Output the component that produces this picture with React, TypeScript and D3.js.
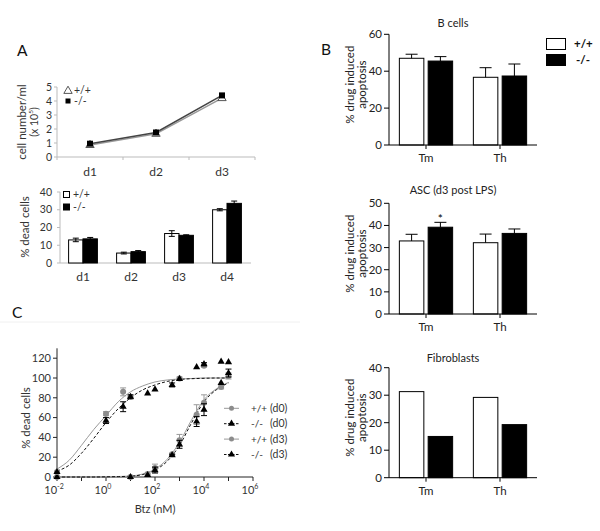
import React from 'react';
import * as d3 from 'd3';

const FONT = "Lato, 'DejaVu Sans', sans-serif";

// ---------- Panel A (top): cell number ----------
const growthDays = ['d1', 'd2', 'd3'];
const growthWT = [0.85, 1.65, 4.2];
const growthKO = [0.95, 1.75, 4.4];
const growthTicks = [0, 1, 2, 3, 4, 5];

// ---------- Panel A (bottom): % dead cells ----------
const deadDays = ['d1', 'd2', 'd3', 'd4'];
const deadWT = [13, 5.6, 16.6, 30];
const deadWTErr = [1, 0.5, 1.6, 0.6];
const deadKO = [13.6, 6.4, 15.6, 33.6];
const deadKOErr = [0.8, 0.6, 0.3, 1.3];
const deadTicks = [0, 10, 20, 30, 40];

// ---------- Panel B ----------
const groups = ['Tm', 'Th'];
const bcellWT = [47, 36.7];
const bcellWTErr = [2.2, 5.2];
const bcellKO = [45.5, 37.4];
const bcellKOErr = [2.4, 6.5];
const bcellTicks = [0, 20, 40, 60];

const ascWT = [33, 32.2];
const ascWTErr = [3, 3.9];
const ascKO = [39.2, 36.4];
const ascKOErr = [2.2, 2];
const ascTicks = [0, 10, 20, 30, 40, 50];

const fibroWT = [31.3, 29.2];
const fibroKO = [15, 19.3];
const fibroTicks = [0, 10, 20, 30, 40];

// ---------- Panel C ----------
const wtD0Doses = [0.01, 1, 5, 10, 1000, 10000];
const wtD0 = [5, 64, 86, 81, 99.5, 112.5];
const wtD0Err = [0, 2, 4, 0, 1.5, 1.5];
const koD0Doses = [0.01, 1, 5, 10, 50, 100, 500, 1000, 5000, 10000, 50000, 100000];
const koD0 = [5, 57, 71, 81, 84.5, 88.5, 93, 99, 111, 114, 116.5, 116];
const koD0Err = [0, 3, 5, 2, 0, 0, 2, 0, 0, 1.5, 0, 0];
const d3Doses = [0.01, 10, 50, 100, 500, 1000, 5000, 10000, 50000, 100000];
const wtD3 = [0, 0, 3, 9, 23, 37, 63, 75, 91, 102];
const wtD3Err = [0, 0, 1, 4, 1, 6, 10, 8, 2, 3];
const koD3 = [0, 0, 2, 7, 22, 33, 56, 68, 95, 105];
const koD3Err = [0, 0, 0, 3, 1, 4, 5, 6, 0, 4];

// fitted curves (log10 dose -> %)
const fitLogs = [-2, -1.5, -1, -0.5, 0, 0.5, 1, 1.5, 2, 2.5, 3, 3.5, 4, 4.5, 5];
const wtD0Fit = [8, 17, 32, 48, 62, 76, 86, 92, 96, 98, 99, 99.5, 100, 100, 100];
const koD0Fit = [6, 12, 24, 39, 55, 69, 80, 88, 93, 96.5, 98.5, 99.3, 99.7, 100, 100];
const wtD3Fit = [0, 0, 0, 0, 0.2, 0.5, 1, 3, 8, 18, 35, 58, 78, 89, 95.5];
const koD3Fit = [0, 0, 0, 0, 0.2, 0.4, 0.8, 2.5, 7, 16, 32, 55, 76, 88, 95];
const cYTicks = [0, 20, 40, 60, 80, 100, 120];
const cXMajor = [-2, 0, 2, 4, 6];
const cXMinor = [-2, -1, 0, 1, 2, 3, 4, 5, 6];

const legendC = [
  { a: '+/+', b: '(d0)', ko: false },
  { a: '-/-', b: '(d0)', ko: true },
  { a: '+/+', b: '(d3)', ko: false },
  { a: '-/-', b: '(d3)', ko: true },
];

function ErrI({ x, y0, y1, w = 3, color = '#000' }: any) {
  return (
    <g stroke={color} strokeWidth={1}>
      <line x1={x} x2={x} y1={y0} y2={y1} />
      <line x1={x - w} x2={x + w} y1={y0} y2={y0} />
      <line x1={x - w} x2={x + w} y1={y1} y2={y1} />
    </g>
  );
}

function BarPanelB({ title, titleY, wt, ko, wtErr, koErr, ticks, y0, y1, labelY, star }: any) {
  const x = d3.scaleBand().domain(groups).range([389, 537]).paddingInner(0.28).paddingOuter(0.14);
  const sub = d3.scaleBand().domain(['wt', 'ko']).range([0, x.bandwidth()]).paddingInner(0.15);
  const max = ticks[ticks.length - 1];
  const y = d3.scaleLinear().domain([0, max]).range([y0, y1]);
  return (
    <g fontFamily={FONT}>
      <text x={453} y={titleY} fontSize={11} textAnchor="middle" fill="#222">{title}</text>
      {groups.map((g, i) => {
        const bx = x(g)!;
        const items = [
          { k: 'wt', v: wt[i], e: wtErr ? wtErr[i] : 0, fill: '#fff' },
          { k: 'ko', v: ko[i], e: koErr ? koErr[i] : 0, fill: '#000' },
        ];
        return (
          <g key={g}>
            {items.map((it) => {
              const xx = bx + sub(it.k)!;
              const cx = xx + sub.bandwidth() / 2;
              return (
                <g key={it.k}>
                  <rect x={xx} y={y(it.v)} width={sub.bandwidth()} height={y0 - y(it.v)}
                    fill={it.fill} stroke="#000" strokeWidth={1} />
                  {it.e > 0 && (
                    <g stroke="#000" strokeWidth={1}>
                      <line x1={cx} x2={cx} y1={y(it.v)} y2={y(it.v + it.e)} />
                      <line x1={cx - 6} x2={cx + 6} y1={y(it.v + it.e)} y2={y(it.v + it.e)} />
                    </g>
                  )}
                  {star && it.k === 'ko' && i === 0 && (
                    <text x={cx} y={y(it.v + it.e) + 1} fontSize={12} textAnchor="middle" fill="#000">*</text>
                  )}
                </g>
              );
            })}
          </g>
        );
      })}
      <line x1={389} x2={389} y1={y0} y2={y(max)} stroke="#000" />
      <line x1={389} x2={537} y1={y0} y2={y0} stroke="#000" />
      {ticks.map((t: number) => (
        <g key={t}>
          <line x1={384} x2={389} y1={y(t)} y2={y(t)} stroke="#000" />
          <text x={382} y={y(t)} dy="0.35em" fontSize={11.5} textAnchor="end" fill="#222">{t}</text>
        </g>
      ))}
      {groups.map((g) => {
        const cx = x(g)! + x.bandwidth() / 2;
        return (
          <g key={g}>
            <line x1={cx} x2={cx} y1={y0} y2={y0 + 4} stroke="#000" />
            <text x={cx} y={labelY} fontSize={11.5} textAnchor="middle" fill="#222">{g}</text>
          </g>
        );
      })}
      <g transform={`translate(349,${(y0 + y(max)) / 2 - 5}) rotate(-90)`}>
        <text x={0} y={0} fontSize={11.5} textAnchor="middle" dominantBaseline="central" fill="#222">% drug induced</text>
      </g>
      <g transform={`translate(361.5,${(y0 + y(max)) / 2 - 5}) rotate(-90)`}>
        <text x={0} y={0} fontSize={11.5} textAnchor="middle" dominantBaseline="central" fill="#222">apoptosis</text>
      </g>
    </g>
  );
}

export default function App() {
  // ---- Panel A top ----
  const ax = d3.scaleBand().domain(growthDays).range([57, 255]);
  const ay = d3.scaleLinear().domain([0, 5]).range([157, 87]);
  const acx = (d: string) => ax(d)! + ax.bandwidth() / 2;
  const lineA = d3.line<number>().x((_, i) => acx(growthDays[i])).y((v) => ay(v));
  const tri = d3.symbol(d3.symbolTriangle, 30)();
  const triC = d3.symbol(d3.symbolTriangle, 22)();

  // ---- Panel A bottom ----
  const bx = d3.scaleBand().domain(deadDays).range([59, 251]).paddingInner(0.4).paddingOuter(0.2);
  const bsub = d3.scaleBand().domain(['wt', 'ko']).range([0, bx.bandwidth()]);
  const by = d3.scaleLinear().domain([0, 40]).range([263, 192]);

  // ---- Panel C ----
  const cx = d3.scaleLog().domain([1e-2, 1e6]).range([57, 253]);
  const cy = d3.scaleLinear().domain([0, 130]).range([477, 348.3]);
  const fitLine = d3.line<number>().x((_, i) => cx(Math.pow(10, fitLogs[i]))).y((v) => cy(v)).curve(d3.curveMonotoneX);

  const renderSeries = (doses: number[], vals: number[], errs: number[], ko: boolean, color: string) => (
    <g>
      {doses.map((d, i) => {
        const X = cx(d);
        const Y = cy(vals[i]);
        return (
          <g key={i}>
            {errs[i] > 0 && <ErrI x={X} y0={cy(vals[i] - errs[i])} y1={cy(vals[i] + errs[i])} w={3} color={color} />}
            {ko ? (
              <path d={triC!} transform={`translate(${X},${Y})`} fill="#000" />
            ) : (
              <circle cx={X} cy={Y} r={3} fill="#8c8c8c" />
            )}
          </g>
        );
      })}
    </g>
  );

  return (
    <svg width={600} height={531} style={{ position: 'absolute', left: 0, top: 0, background: '#fff' }} fontFamily={FONT}>
      <rect x={0} y={0} width={600} height={531} fill="#fff" />

      {/* ================= Panel A top ================= */}
      <text x={17} y={56} fontSize={15.5} fill="#111">A</text>
      <line x1={57} x2={57} y1={157} y2={ay(5)} stroke="#bbb" />
      <line x1={57} x2={255} y1={157} y2={157} stroke="#bbb" />
      {growthTicks.map((t) => (
        <g key={t}>
          <line x1={54} x2={57} y1={ay(t)} y2={ay(t)} stroke="#bbb" />
          <text x={52} y={ay(t)} dy="0.35em" fontSize={10.5} textAnchor="end" fill="#333">{t}</text>
        </g>
      ))}
      {[...growthDays.map((d) => ax(d)!), 255].map((xx, i) => (
        <line key={i} x1={xx} x2={xx} y1={157} y2={160} stroke="#bbb" />
      ))}
      {growthDays.map((d) => (
        <text key={d} x={acx(d)} y={176} fontSize={12} textAnchor="middle" fill="#333">{d}</text>
      ))}
      <g transform="translate(21.5,122) rotate(-90)">
        <text x={0} y={0} fontSize={11.5} textAnchor="middle" dominantBaseline="central" fill="#333">cell number/ml</text>
      </g>
      <g transform="translate(33.5,122) rotate(-90)">
        <text x={0} y={0} fontSize={10.5} textAnchor="middle" dominantBaseline="central" fill="#333">
          (x 10<tspan fontSize={6.5} dy={-4}>5</tspan><tspan dy={4}>)</tspan>
        </text>
      </g>
      <path d={lineA(growthWT)!} fill="none" stroke="#999" strokeWidth={1.5} />
      <path d={lineA(growthKO)!} fill="none" stroke="#444" strokeWidth={1.5} />
      {growthWT.map((v, i) => (
        <path key={i} d={tri!} transform={`translate(${acx(growthDays[i])},${ay(v)})`} fill="#fff" stroke="#444" strokeWidth={0.9} />
      ))}
      {growthKO.map((v, i) => (
        <rect key={i} x={acx(growthDays[i]) - 3} y={ay(v) - 3} width={6} height={6} fill="#000" />
      ))}
      <path d={tri!} transform="translate(68,91)" fill="#fff" stroke="#444" strokeWidth={0.9} />
      <text x={74} y={94} fontSize={10.5} fill="#333">+/+</text>
      <rect x={65.5} y={98.5} width={5} height={5} fill="#000" />
      <text x={74} y={104.5} fontSize={10.5} fill="#333">-/-</text>

      {/* ================= Panel A bottom ================= */}
      <line x1={60} x2={60} y1={263} y2={by(40)} stroke="#bbb" />
      <line x1={60} x2={251} y1={263} y2={263} stroke="#bbb" />
      {deadTicks.map((t) => (
        <g key={t}>
          <line x1={57} x2={60} y1={by(t)} y2={by(t)} stroke="#bbb" />
          <text x={52} y={by(t)} dy="0.35em" fontSize={10.5} textAnchor="end" fill="#333">{t}</text>
        </g>
      ))}
      {deadDays.map((d, i) => {
        const x0 = bx(d)!;
        const items = [
          { k: 'wt', v: deadWT[i], e: deadWTErr[i], fill: '#fff' },
          { k: 'ko', v: deadKO[i], e: deadKOErr[i], fill: '#000' },
        ];
        return (
          <g key={d}>
            {items.map((it) => {
              const xx = x0 + bsub(it.k)!;
              const c = xx + bsub.bandwidth() / 2;
              return (
                <g key={it.k}>
                  <rect x={xx} y={by(it.v)} width={bsub.bandwidth()} height={263 - by(it.v)} fill={it.fill} stroke="#000" strokeWidth={1} />
                  <ErrI x={c} y0={by(it.v - it.e)} y1={by(it.v + it.e)} w={3} />
                </g>
              );
            })}
            <text x={x0 + bx.bandwidth() / 2} y={281} fontSize={12} textAnchor="middle" fill="#333">{d}</text>
          </g>
        );
      })}
      <g transform="translate(24,227) rotate(-90)">
        <text x={0} y={0} fontSize={11.5} textAnchor="middle" dominantBaseline="central" fill="#333">% dead cells</text>
      </g>
      <rect x={63.5} y={191.5} width={6} height={6} fill="#fff" stroke="#000" />
      <text x={73} y={198} fontSize={10.5} fill="#333">+/+</text>
      <rect x={63.5} y={204} width={6} height={6} fill="#000" stroke="#000" />
      <text x={73} y={210.5} fontSize={10.5} fill="#333">-/-</text>

      {/* ================= Panel B ================= */}
      <text x={321} y={55} fontSize={15.5} fill="#111">B</text>
      <BarPanelB title="B cells" titleY={27} wt={bcellWT} ko={bcellKO} wtErr={bcellWTErr} koErr={bcellKOErr}
        ticks={bcellTicks} y0={145} y1={34.3} labelY={162} />
      <BarPanelB title="ASC (d3 post LPS)" titleY={194} wt={ascWT} ko={ascKO} wtErr={ascWTErr} koErr={ascKOErr}
        ticks={ascTicks} y0={314} y1={203.3} labelY={331} star />
      <BarPanelB title="Fibroblasts" titleY={362} wt={fibroWT} ko={fibroKO} wtErr={null} koErr={null}
        ticks={fibroTicks} y0={477.7} y1={367.7} labelY={495} />
      <rect x={546.5} y={38.5} width={19} height={11} fill="#fff" stroke="#000" />
      <rect x={546.5} y={54.5} width={19} height={11} fill="#000" stroke="#000" />
      <text x={574} y={48} fontSize={11.5} fontWeight="bold" fill="#111">+/+</text>
      <text x={576} y={64} fontSize={11.5} fontWeight="bold" fill="#111">-/-</text>

      {/* ================= Panel C ================= */}
      <line x1={0} x2={300} y1={322} y2={322} stroke="#f0f0f0" />
      <text x={12} y={318} fontSize={15.5} fill="#111">C</text>
      <line x1={57} x2={57} y1={477} y2={348.3} stroke="#222" />
      <line x1={57} x2={253} y1={477} y2={477} stroke="#222" />
      {cYTicks.map((t) => (
        <g key={t}>
          <line x1={53} x2={57} y1={cy(t)} y2={cy(t)} stroke="#222" />
          <text x={51} y={cy(t)} dy="0.35em" fontSize={11} textAnchor="end" fill="#333">{t}</text>
        </g>
      ))}
      {cXMinor.map((l) => (
        <line key={l} x1={cx(Math.pow(10, l))} x2={cx(Math.pow(10, l))} y1={477} y2={481} stroke="#222" />
      ))}
      {cXMajor.map((l) => (
        <text key={l} x={cx(Math.pow(10, l)) - 3} y={494} fontSize={11} textAnchor="middle" fill="#333">
          10<tspan fontSize={7} dy={-5}>{l}</tspan>
        </text>
      ))}
      <text x={155} y={513} fontSize={11} textAnchor="middle" fill="#333">Btz (nM)</text>
      <g transform="translate(25,418) rotate(-90)">
        <text x={0} y={0} fontSize={11.5} textAnchor="middle" dominantBaseline="central" fill="#333">% dead cells</text>
      </g>
      <path d={fitLine(wtD0Fit)!} fill="none" stroke="#999" strokeWidth={1} />
      <path d={fitLine(koD0Fit)!} fill="none" stroke="#111" strokeWidth={1} strokeDasharray="3,2" />
      <path d={fitLine(wtD3Fit)!} fill="none" stroke="#999" strokeWidth={1} />
      <path d={fitLine(koD3Fit)!} fill="none" stroke="#111" strokeWidth={1} strokeDasharray="3,2" />
      {renderSeries(d3Doses, wtD3, wtD3Err, false, '#999')}
      {renderSeries(d3Doses, koD3, koD3Err, true, '#000')}
      {renderSeries(wtD0Doses, wtD0, wtD0Err, false, '#999')}
      {renderSeries(koD0Doses, koD0, koD0Err, true, '#000')}
      {legendC.map((l, i) => {
        const yy = 408.3 + i * 15.4;
        return (
          <g key={i}>
            <line x1={224} x2={239} y1={yy} y2={yy} stroke={l.ko ? '#111' : '#999'} strokeWidth={1} strokeDasharray={l.ko ? '2.5,1.5' : undefined} />
            {l.ko ? (
              <path d={triC!} transform={`translate(231.5,${yy})`} fill="#000" />
            ) : (
              <circle cx={231.5} cy={yy} r={2.5} fill="#8c8c8c" />
            )}
            <text x={251} y={yy} dy="0.35em" fontSize={10} fill="#333">{l.a}</text>
            <text x={270} y={yy} dy="0.35em" fontSize={10.5} fill="#333">{l.b}</text>
          </g>
        );
      })}
    </svg>
  );
}
